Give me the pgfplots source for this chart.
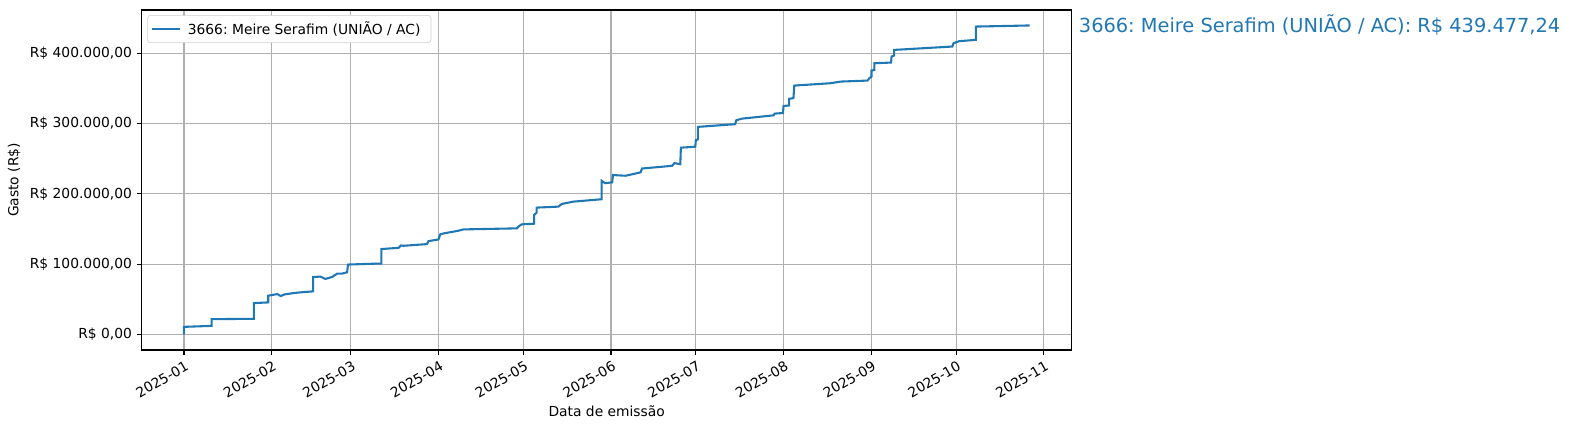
\documentclass[border=0pt]{standalone}
\usepackage{fontspec}
\setmainfont{DejaVu Sans}
\frenchspacing
\usepackage{pgfplots}
\pgfplotsset{compat=1.18}
\definecolor{mplblue}{HTML}{1F77B4}
\definecolor{mplgrid}{HTML}{B0B0B0}

\begin{document}
\begin{tikzpicture}
\begin{axis}[
    scale only axis,
    width=669.6bp, height=244.8bp,
    xmin=-14.95, xmax=313.9,
    ymin=-21974, ymax=461451,
    clip=false,
    axis line style={black, line width=0.8bp},
    tick pos=left,
    tick align=outside,
    major tick length=3.5bp,
    tick style={black, line width=0.8bp},
    grid=major,
    major grid style={color=mplgrid, line width=0.8bp},
    xtick={0,31,59,90,120,151,181,212,243,273,304},
    xticklabels={2025-01,2025-02,2025-03,2025-04,2025-05,2025-06,2025-07,2025-08,2025-09,2025-10,2025-11},
    xticklabel style={rotate=30, anchor=north east, font=\fontsize{10}{12}\selectfont, inner sep=1.5bp, yshift=-2bp},
    ytick={0,100000,200000,300000,400000},
    yticklabels={R\$ 0{,}00,R\$ 100.000{,}00,R\$ 200.000{,}00,R\$ 300.000{,}00,R\$ 400.000{,}00},
    yticklabel style={font=\fontsize{10}{12}\selectfont},
    xlabel={Data de emissão},
    ylabel={Gasto (R\$)},
    label style={font=\fontsize{10}{12}\selectfont},
    legend style={at={(0.006,0.985)}, anchor=north west, draw=black!20, rounded corners=2bp,
        font=\fontsize{10}{12}\selectfont, inner sep=2.5bp,
        nodes={inner xsep=5bp}},
    legend image code/.code={\draw[#1] (0bp,0bp) -- (20bp,0bp);},
    legend cell align=left,
]
\addplot[mplblue, line width=1.5bp] coordinates {
(0,0) (0,10950) (9.8,12380) (9.8,21900) (24.7,22400) (24.7,44760)
(29.8,45700) (29.8,55240) (33,57600) (34.2,54760) (35.5,57000)
(38.9,59050) (41.2,60000) (45.7,61430) (45.7,81900) (48.3,82380)
(50,79050) (52.4,81900) (54.2,86670) (55.9,86670) (57.7,88570)
(58,99520) (65,100500) (69.8,101000) (69.8,121600) (75.9,123300)
(76.7,126700) (77.6,126200) (85.9,128600) (86.5,132900) (90,135200)
(90.6,142400) (91.8,143800) (97,147600) (98.8,149500) (117.7,151000)
(118.5,154300) (119.4,156700) (123.8,157600) (123.8,170000) (124.7,173300)
(124.7,180500) (132.4,181900) (133.6,185700) (137.7,189000) (147.7,192400)
(147.7,218600) (148.9,215200) (151.4,216400) (151.7,226800) (156.1,225800)
(161.4,230500) (162,236100) (172.6,239900) (173.4,243700) (175.5,242300)
(175.7,265700) (180.8,267100) (181,276500) (181.7,277500) (181.7,295300)
(194.9,299100) (195.3,304700) (197.3,307000) (208.5,311700) (208.8,314100)
(211.8,315000) (212,324900) (214,325800) (214,335200) (215.5,336200)
(215.8,354000) (228.5,357300) (232.3,359700) (241.7,361100) (242.3,364400)
(243.1,366800) (243.1,375300) (244.1,376200) (244.1,385800) (250,386700)
(250.2,395300) (251.1,396700) (251.1,404700) (271.7,409500) (272.1,414200)
(274.1,417100) (280,419000) (280,437900) (291.2,438800) (299,439477)
};
\addlegendentry{3666: Meire Serafim (UNIÃO / AC)}
\node[anchor=west, text=mplblue, font=\fontsize{14}{16}\selectfont, inner sep=0pt, xshift=5bp]
    at (axis cs:313.9,439477) {3666: Meire Serafim (UNIÃO / AC): R\$ 439.477,24};
\end{axis}
\pgfresetboundingbox
\useasboundingbox (-102bp,-57.6bp) rectangle (1030.5bp,252bp);
\end{tikzpicture}
\end{document}
